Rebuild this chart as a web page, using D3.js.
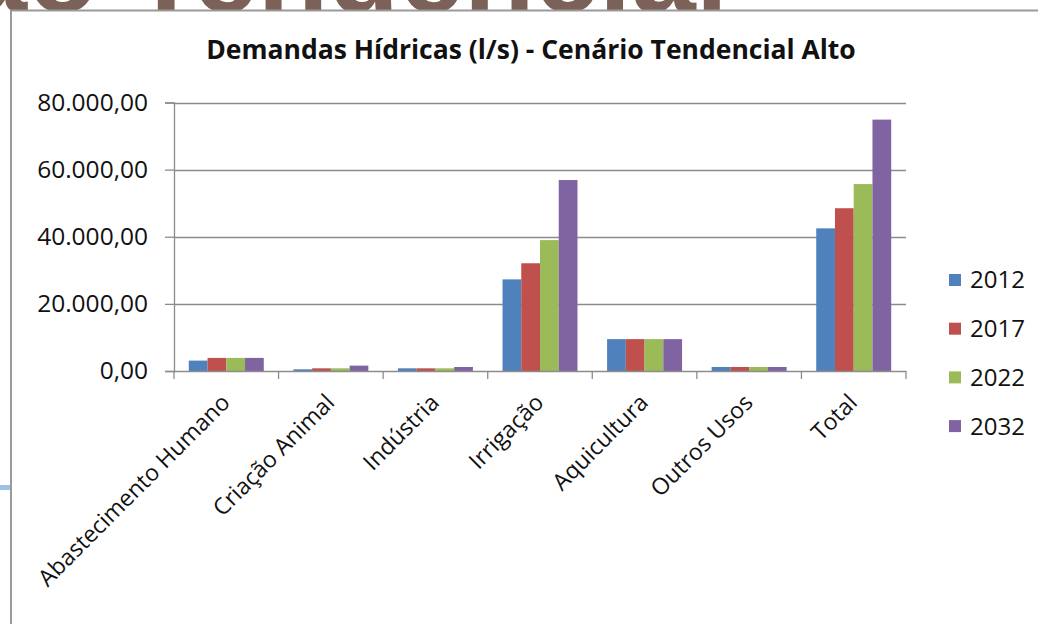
<!DOCTYPE html>
<html>
<head>
<meta charset="utf-8">
<script src="https://cdn.jsdelivr.net/npm/d3@7"></script>
<style>
  body { margin: 0; background: #fff; }
  svg { display: block; }
</style>
</head>
<body>
<script>
const categories = ["Abastecimento Humano", "Criação Animal", "Indústria", "Irrigação", "Aquicultura", "Outros Usos", "Total"];
const years = ["2012", "2017", "2022", "2032"];
const v2012 = [3100, 500, 800, 27300, 9500, 1200, 42500];
const v2017 = [3900, 800, 800, 32100, 9500, 1200, 48500];
const v2022 = [3900, 800, 800, 39000, 9500, 1200, 55700];
const v2032 = [3900, 1600, 1200, 56900, 9500, 1200, 74900];
const yTicks = [0, 20000, 40000, 60000, 80000];
const colors = ["#4F81BD", "#C0504D", "#9BBB59", "#8064A2"];

const series = [v2012, v2017, v2022, v2032];

const width = 1038;
const height = 624;
const font = "'Open Sans', 'Liberation Sans', sans-serif";

let svg = d3.select("body")
	.append("svg")
		.attr("width", width)
		.attr("height", height)

// slide title behind the chart (only its bottom edge shows above the frame)
let topStrip = svg.append("svg")
	.attr("x", 0)
	.attr("y", 0)
	.attr("width", width)
	.attr("height", 11)

topStrip.append("text")
	.attr("x", 728)
	.attr("y", 12)
	.attr("text-anchor", "end")
	.attr("font-family", "'Liberation Sans', sans-serif")
	.attr("font-weight", "bold")
	.attr("font-size", 116)
	.attr("fill", "#7B6158")
	.text("ão Tendencial")

// small bar on the left edge
svg.append("rect")
	.attr("x", 0)
	.attr("y", 485)
	.attr("width", 11)
	.attr("height", 5)
	.attr("fill", "#9DC0E4")

// chart frame
svg.append("rect")
	.attr("x", 11)
	.attr("y", 10.5)
	.attr("width", width)
	.attr("height", height)
	.attr("fill", "#fff")
	.attr("stroke", "#9a9a9a")
	.attr("stroke-width", 2)

svg.append("text")
	.attr("x", 531)
	.attr("y", 59)
	.attr("text-anchor", "middle")
	.attr("font-family", font)
	.attr("font-weight", "bold")
	.attr("font-size", 26.5)
	.attr("fill", "#111")
	.text("Demandas Hídricas (l/s) - Cenário Tendencial Alto")

const plot = { left: 174, right: 906, top: 102.5, bottom: 371 };

let x0 = d3.scaleBand()
	.domain(categories)
	.range([plot.left, plot.right])
	.paddingInner(0.283)
	.paddingOuter(0.1415)

let x1 = d3.scaleBand()
	.domain(years)
	.range([0, x0.bandwidth()])

let y = d3.scaleLinear()
	.domain([0, 80000])
	.range([plot.bottom, plot.top])

const fmt = d3.formatLocale({ decimal: ",", thousands: ".", grouping: [3], currency: ["", ""] }).format(",.2f");

// gridlines
svg.append("g")
	.selectAll("line")
	.data(yTicks.slice(1))
	.enter()
	.append("line")
		.attr("x1", plot.left)
		.attr("x2", plot.right)
		.attr("y1", (d) => Math.round(y(d)) + 0.5)
		.attr("y2", (d) => Math.round(y(d)) + 0.5)
		.attr("stroke", "#8c8c8c")
		.attr("stroke-width", 1.3)

// bars
let groups = svg.append("g")
	.selectAll("g")
	.data(categories)
	.enter()
	.append("g")
		.attr("transform", (d) => `translate(${x0(d)},0)`)

groups.selectAll("rect")
	.data((d, i) => years.map((yr, j) => ({ yr: yr, value: series[j][i], color: colors[j] })))
	.enter()
	.append("rect")
		.attr("x", (d) => x1(d.yr))
		.attr("y", (d) => y(d.value))
		.attr("width", x1.bandwidth())
		.attr("height", (d) => y(0) - y(d.value))
		.attr("fill", (d) => d.color)

// y axis
let yAxis = d3.axisLeft(y)
	.tickValues(yTicks)
	.tickSize(9)
	.tickPadding(17)
	.tickFormat(fmt)

svg.append("g")
	.attr("transform", `translate(${plot.left},0)`)
	.call(yAxis)
	.call((g) => g.selectAll("line, path").attr("stroke", "#8c8c8c").attr("stroke-width", 1.3))
	.call((g) => g.selectAll("text")
		.attr("font-family", font)
		.attr("font-size", 24.5)
		.attr("fill", "#111"))

// x axis
let xAxis = d3.axisBottom(x0)
	.tickSize(0)
	.tickSizeOuter(0)

let xg = svg.append("g")
	.attr("transform", `translate(0,${plot.bottom})`)
	.call(xAxis)

xg.select(".domain")
	.attr("d", `M${plot.left},0.5H${plot.right}`)
	.attr("stroke", "#8c8c8c")
	.attr("stroke-width", 1.3)

xg.selectAll(".tick line").remove()

xg.selectAll(".tick text")
	.attr("font-family", font)
	.attr("font-size", 23)
	.attr("fill", "#111")
	.attr("text-anchor", "end")
	.attr("dy", null)
	.attr("y", 0)
	.attr("transform", "translate(5,33) rotate(-45)")

// category boundary ticks
const bounds = d3.range(categories.length + 1).map((i) => plot.left + i * x0.step());
xg.append("g")
	.selectAll("line")
	.data(bounds)
	.enter()
	.append("line")
		.attr("x1", (d) => d)
		.attr("x2", (d) => d)
		.attr("y1", 0)
		.attr("y2", 8)
		.attr("stroke", "#8c8c8c")
		.attr("stroke-width", 1.3)

// legend
let legend = svg.append("g")
	.attr("transform", "translate(949,280)")

let items = legend.selectAll("g")
	.data(years)
	.enter()
	.append("g")
		.attr("transform", (d, i) => `translate(0,${i * 48.7})`)

items.append("rect")
	.attr("x", 0)
	.attr("y", -6)
	.attr("width", 12)
	.attr("height", 12)
	.attr("fill", (d, i) => colors[i])

items.append("text")
	.attr("x", 21)
	.attr("y", 0)
	.attr("dy", "0.35em")
	.attr("font-family", font)
	.attr("font-size", 24)
	.attr("fill", "#111")
	.text((d) => d)
</script>
</body>
</html>
